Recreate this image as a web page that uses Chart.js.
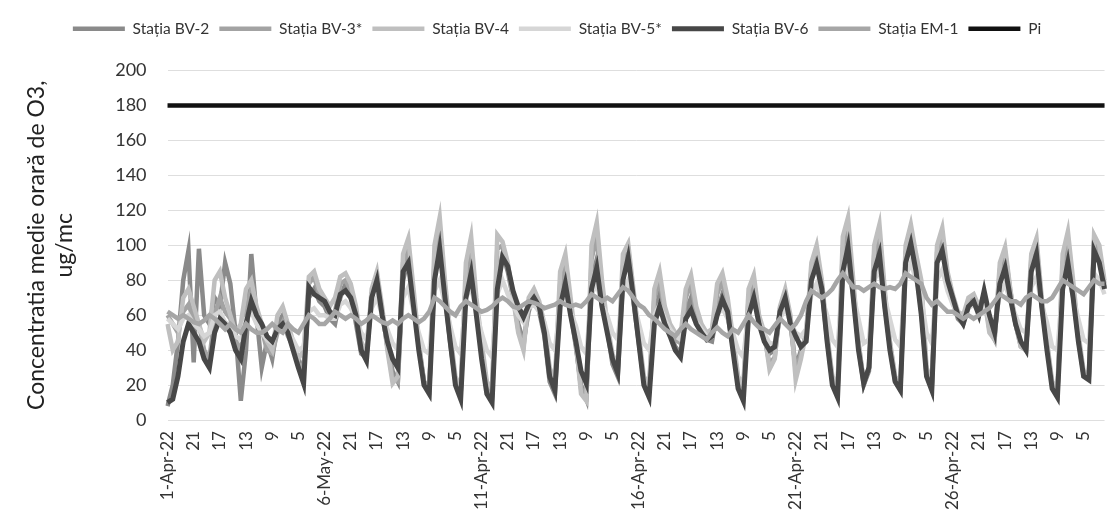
<!DOCTYPE html>
<html>
<head>
<meta charset="utf-8">
<script src="https://cdn.jsdelivr.net/npm/chart.js@4.4.1/dist/chart.umd.min.js"></script>
<style>
  html, body { margin: 0; padding: 0; background: #fff; overflow: hidden; }
  #wrap { width: 1107px; height: 513px; position: relative; }
</style>
</head>
<body>
<div id="wrap"><canvas id="ozon"></canvas></div>
<script>
// concentratii medii orare O3, aprilie 2022 (o valoare la 4 ore: orele 1,5,9,13,17,21)
const seriesNames = ['Stația BV-2', 'Stația BV-3*', 'Stația BV-4', 'Stația BV-5*', 'Stația BV-6', 'Stația EM-1', 'Pi']

const tickLabels = [
    '1-Apr-22', '21', '17', '13', '9', '5',
    '6-May-22', '21', '17', '13', '9', '5',
    '11-Apr-22', '21', '17', '13', '9', '5',
    '16-Apr-22', '21', '17', '13', '9', '5',
    '21-Apr-22', '21', '17', '13', '9', '5',
    '26-Apr-22', '21', '17', '13', '9', '5'
]

const bv2 = [
    8, 20, 45, 80, 97, 33,
    98, 60, 55, 70, 65, 90,
    78, 50, 11, 40, 95, 60,
    30, 45, 35, 55, 60, 50,
    45, 35, 28, 70, 75, 68,
    65, 58, 55, 70, 78, 72,
    55, 38, 36, 72, 82, 62,
    42, 28, 22, 80, 92, 68,
    42, 22, 18, 85, 100, 72,
    44, 22, 15, 75, 90, 62,
    38, 18, 14, 80, 95, 85,
    70, 55, 45, 62, 72, 62,
    48, 22, 15, 70, 82, 62,
    42, 20, 12, 80, 92, 66,
    52, 32, 25, 82, 95, 68,
    45, 22, 16, 60, 72, 58,
    50, 42, 38, 62, 70, 58,
    52, 46, 45, 62, 72, 60,
    42, 20, 14, 65, 74, 56,
    46, 38, 40, 60, 68, 55,
    30, 40, 48, 82, 92, 74,
    46, 22, 16, 90, 104, 72,
    42, 20, 28, 88, 100, 66,
    42, 22, 18, 92, 105, 86,
    62, 26, 18, 92, 102, 80,
    68, 58, 55, 66, 70, 62,
    72, 55, 48, 82, 92, 72,
    55, 44, 40, 88, 98, 66,
    42, 20, 15, 82, 96, 72,
    46, 26, 24, 100, 94, 76
]

const bv3 = [
    60, 55, 50, 62, 66, 58,
    55, 40, 35, 60, 70, 62,
    58, 45, 40, 62, 75, 64,
    52, 40, 38, 50, 56, 48,
    42, 32, 30, 78, 82, 72,
    68, 60, 62, 78, 80, 74,
    62, 42, 36, 72, 82, 62,
    42, 24, 22, 90, 98, 70,
    44, 22, 16, 92, 108, 76,
    48, 22, 16, 82, 98, 66,
    40, 20, 16, 98, 100, 88,
    72, 52, 42, 68, 74, 66,
    52, 28, 20, 78, 90, 66,
    44, 18, 14, 92, 105, 74,
    52, 36, 28, 88, 98, 72,
    48, 22, 18, 70, 80, 62,
    52, 46, 44, 70, 78, 62,
    54, 48, 50, 72, 80, 66,
    46, 22, 18, 70, 80, 58,
    48, 32, 36, 64, 72, 58,
    28, 38, 50, 86, 96, 78,
    48, 24, 18, 98, 110, 76,
    44, 22, 30, 95, 106, 72,
    44, 24, 20, 96, 108, 90,
    72, 28, 20, 96, 106, 82,
    70, 60, 58, 68, 70, 64,
    72, 52, 46, 86, 96, 74,
    55, 42, 40, 92, 100, 68,
    44, 20, 16, 90, 102, 76,
    48, 26, 25, 102, 96, 78
]

const bv4 = [
    55, 40, 45, 70, 75, 65,
    55, 45, 50, 80, 85, 70,
    60, 50, 55, 75, 80, 65,
    55, 45, 40, 60, 65, 55,
    45, 35, 40, 82, 85, 75,
    70, 65, 70, 82, 84, 78,
    65, 45, 38, 75, 85, 65,
    40, 21, 25, 95, 104, 75,
    45, 20, 18, 100, 116, 80,
    50, 25, 18, 90, 105, 70,
    45, 22, 18, 106, 102, 90,
    70, 50, 40, 70, 75, 68,
    55, 30, 22, 85, 95, 70,
    45, 15, 11, 100, 113, 80,
    55, 38, 30, 95, 101, 75,
    50, 25, 20, 75, 85, 65,
    55, 50, 48, 75, 83, 65,
    55, 50, 52, 78, 84, 70,
    48, 25, 20, 75, 83, 60,
    50, 29, 35, 65, 75, 60,
    23, 35, 50, 90, 100, 80,
    50, 25, 20, 105, 116, 80,
    45, 21, 30, 100, 112, 75,
    45, 25, 20, 100, 112, 95,
    80, 30, 22, 100, 110, 85,
    72, 62, 60, 70, 72, 65,
    70, 50, 46, 90, 99, 75,
    55, 42, 40, 95, 104, 70,
    45, 22, 18, 95, 108, 80,
    50, 28, 26, 106, 100, 80
]

const bv5 = [
    58, 55, 52, 58, 60, 55,
    52, 48, 50, 60, 62, 56,
    54, 48, 46, 58, 62, 55,
    50, 46, 44, 52, 54, 50,
    46, 40, 42, 62, 64, 60,
    60, 58, 58, 66, 68, 64,
    58, 50, 46, 64, 70, 60,
    52, 44, 40, 70, 76, 62,
    50, 40, 38, 74, 80, 66,
    54, 42, 38, 70, 76, 62,
    50, 40, 36, 72, 80, 72,
    66, 60, 56, 64, 66, 62,
    56, 44, 40, 66, 72, 62,
    54, 42, 38, 72, 78, 66,
    60, 50, 46, 74, 80, 68,
    56, 44, 40, 60, 66, 58,
    52, 48, 46, 58, 62, 56,
    52, 48, 48, 60, 64, 58,
    50, 40, 36, 62, 68, 56,
    50, 44, 44, 58, 64, 56,
    50, 48, 52, 72, 78, 70,
    60, 46, 42, 80, 88, 72,
    58, 44, 46, 80, 86, 70,
    58, 46, 42, 82, 90, 80,
    70, 50, 44, 80, 86, 74,
    66, 60, 58, 64, 66, 62,
    66, 58, 54, 72, 78, 68,
    60, 52, 50, 76, 82, 66,
    56, 42, 40, 76, 84, 70,
    58, 46, 44, 84, 80, 72
]

const bv6 = [
    10, 12, 25, 45, 55, 50,
    45, 35, 30, 50, 58, 55,
    50, 40, 35, 55, 68, 60,
    55, 48, 45, 52, 55, 50,
    40, 30, 21, 76, 72, 70,
    68, 62, 60, 72, 74, 70,
    60, 40, 34, 70, 80, 60,
    45, 35, 30, 85, 90, 65,
    40, 20, 15, 80, 98, 70,
    45, 20, 12, 70, 84, 60,
    35, 15, 10, 75, 93, 88,
    74, 65, 59, 66, 70, 65,
    50, 25, 17, 65, 78, 60,
    45, 28, 21, 75, 87, 65,
    50, 35, 27, 80, 93, 70,
    45, 20, 13, 55, 65, 55,
    48, 40, 36, 58, 63, 55,
    50, 46, 48, 60, 69, 62,
    40, 18, 11, 60, 70, 55,
    45, 40, 42, 62, 70, 55,
    48, 42, 45, 80, 89, 75,
    45, 20, 13, 85, 99, 70,
    40, 21, 30, 85, 95, 65,
    40, 22, 17, 90, 101, 85,
    60, 25, 17, 90, 97, 80,
    70, 60, 55, 65, 68, 60,
    74, 60, 50, 78, 87, 70,
    55, 45, 40, 85, 95, 65,
    40, 18, 13, 75, 90, 70,
    45, 25, 23, 97, 90, 75
]

const em1 = [
    62, 60, 58, 60, 58, 56,
    55, 57, 60, 58, 55, 52,
    55, 52, 50, 55, 52, 50,
    50, 52, 55, 52, 50, 55,
    52, 50, 55, 60, 58, 55,
    55, 58, 62, 60, 58, 60,
    58, 55, 57, 60, 58, 56,
    55, 57, 55, 58, 60, 58,
    56, 58, 62, 70, 68, 65,
    62, 60, 65, 68, 66, 64,
    62, 63, 65, 68, 70, 68,
    65, 64, 66, 68, 67, 66,
    64, 65, 66, 68, 66, 65,
    66, 65, 68, 72, 70, 68,
    70, 68, 72, 76, 74, 70,
    66, 64, 60, 58, 55, 52,
    50, 48, 52, 55, 52, 50,
    48, 46, 50, 53, 50, 48,
    52, 50, 55, 60, 56, 53,
    52, 50, 54, 58, 55, 52,
    55, 60, 68, 74, 72, 70,
    72, 75, 80, 84, 80, 76,
    76, 74, 76, 78, 76, 75,
    76, 75, 78, 84, 82, 80,
    78, 70, 66, 68, 65, 62,
    62, 60, 58, 60, 58, 60,
    62, 64, 68, 72, 70, 68,
    68, 66, 70, 72, 70, 68,
    68, 70, 75, 80, 78, 76,
    74, 72, 76, 80, 78, 78
]

const piValue = 180

const dayHours = [1, 5, 9, 13, 17, 21]
const categories = []
for (let d = 1; d <= 30; d++) {
    dayHours.forEach(h => categories.push(d + '-Apr-22 ' + h + ':00'))
}

const fontFam = 'Lato, "Open Sans", sans-serif'

function line(label, data, color, order, width) {
    return {
        label: label,
        data: data,
        borderColor: color,
        backgroundColor: color,
        borderWidth: width || 4.5,
        pointRadius: 0,
        pointStyle: 'line',
        tension: 0,
        order: order
    }
}

// legenda: mai mult spatiu sub ea si mutata putin spre stanga
const legendTweak = {
    id: 'legendTweak',
    beforeInit(chart) {
        const fit = chart.legend.fit
        const draw = chart.legend.draw
        chart.legend.fit = function () {
            fit.bind(chart.legend)()
            this.height += 23
        }
        chart.legend.draw = function () {
            chart.ctx.save()
            chart.ctx.translate(-6, -1)
            draw.bind(chart.legend)()
            chart.ctx.restore()
        }
    }
}

const ctx = document.getElementById('ozon').getContext('2d')
new Chart(ctx, {
    type: 'line',
    data: {
        labels: categories,
        datasets: [
            line(seriesNames[0], bv2, '#8a8a8a', 6),
            line(seriesNames[1], bv3, '#a3a3a3', 5),
            line(seriesNames[2], bv4, '#bfbfbf', 4),
            line(seriesNames[3], bv5, '#d6d6d6', 3),
            line(seriesNames[4], bv6, '#474747', 2, 5),
            line(seriesNames[5], em1, '#a6a6a6', 1),
            line(seriesNames[6], [
                { x: categories[0], y: piValue },
                { x: categories[categories.length - 1], y: piValue }
            ], '#111111', 0, 4.5)
        ]
    },
    plugins: [legendTweak],
    options: {
        responsive: true,
        maintainAspectRatio: false,
        animation: false,
        layout: { padding: { left: 19, right: 0, top: 12, bottom: 0 } },
        plugins: {
            tooltip: { enabled: false },
            legend: {
                position: 'top',
                labels: {
                    usePointStyle: true,
                    pointStyleWidth: 52,
                    boxHeight: 5,
                    padding: 10,
                    color: '#333',
                    font: { family: fontFam, size: 15.5 },
                    sort: (a, b) => a.datasetIndex - b.datasetIndex
                }
            }
        },
        scales: {
            x: {
                grid: { display: false },
                border: { display: false },
                ticks: {
                    autoSkip: false,
                    minRotation: 90,
                    maxRotation: 90,
                    padding: 3,
                    color: '#333',
                    font: { family: fontFam, size: 17 },
                    callback: function (value, index) {
                        return index % 5 === 0 ? tickLabels[index / 5] : null
                    }
                }
            },
            y: {
                min: 0,
                max: 200,
                border: { display: false },
                grid: { color: '#dedede', drawTicks: false },
                ticks: {
                    stepSize: 20,
                    padding: 21,
                    color: '#333',
                    font: { family: fontFam, size: 18 }
                },
                title: {
                    display: true,
                    text: ['Concentratia medie orară de O3,', 'ug/mc'],
                    color: '#222',
                    font: { family: fontFam, size: 23 },
                    padding: { top: 4, bottom: 16 }
                }
            }
        }
    }
})
</script>
</body>
</html>
